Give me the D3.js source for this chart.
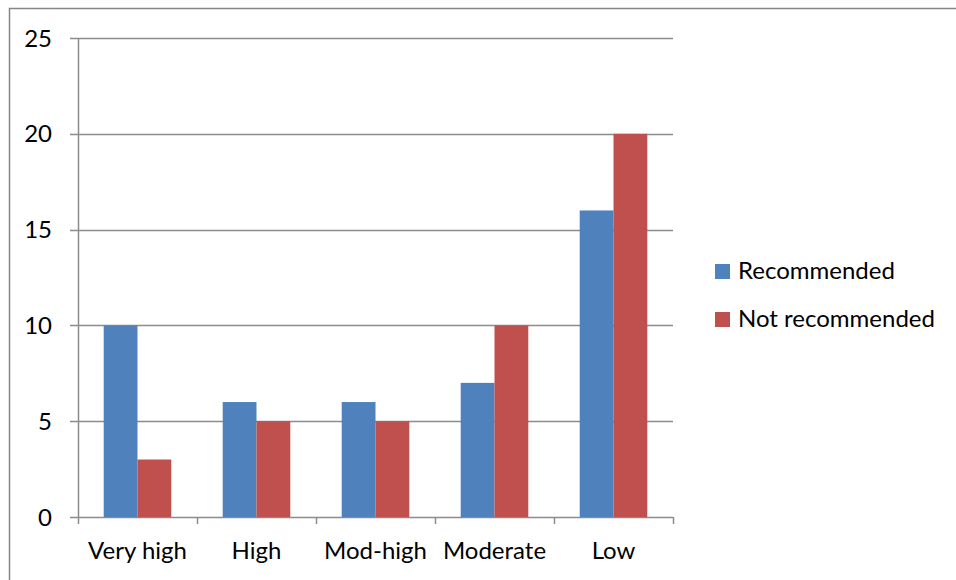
<!DOCTYPE html>
<html>
<head>
<meta charset="utf-8">
<script src="https://cdn.jsdelivr.net/npm/d3@7"></script>
<style>
  body { margin: 0; background: #fff; }
  svg { display: block; }
</style>
</head>
<body>
<div id="chart"></div>
<script>
'use strict';

// chart data
var categories = ['Very high', 'High', 'Mod-high', 'Moderate', 'Low'];
var seriesNames = ['Recommended', 'Not recommended'];
var recommended = [10, 6, 6, 7, 16];
var notRecommended = [3, 5, 5, 10, 20];
var yTicks = [0, 5, 10, 15, 20, 25];

var colors = ['#4F81BD', '#C0504D'];
var font = 'Lato, "Open Sans", sans-serif';
var fontSize = 24;

var width = 956, height = 580;
var margin = {top: 38, right: 283, bottom: 63, left: 78};
var plotW = width - margin.left - margin.right,
    plotH = height - margin.top - margin.bottom;

var svg = d3.select('#chart').append('svg')
    .attr('width', width)
    .attr('height', height);

// outer chart frame (only top and left edges show)
svg.append('path')
    .attr('d', 'M9.5,' + height + 'V8.5H' + width)
    .attr('fill', 'none')
    .attr('stroke', '#868686')
    .attr('stroke-width', 1.5);

var g = svg.append('g')
    .attr('transform', 'translate(' + margin.left + ',' + margin.top + ')');

var x0 = d3.scaleBand().domain(categories).range([0, plotW]);
var gap = x0.bandwidth() * 0.216;
var x1 = d3.scaleBand().domain(seriesNames).range([gap, x0.bandwidth() - gap]);
var y = d3.scaleLinear().domain([0, 25]).range([plotH, 0]);

// gridlines with left tick stubs
g.append('g')
  .selectAll('line')
  .data(yTicks)
  .join('line')
    .attr('x1', -8)
    .attr('x2', plotW)
    .attr('y1', function (d) { return Math.round(y(d)) + 0.5; })
    .attr('y2', function (d) { return Math.round(y(d)) + 0.5; })
    .attr('stroke', '#8c8c8c')
    .attr('stroke-width', 1.5);

// y axis line
g.append('line')
    .attr('x1', 0.5).attr('x2', 0.5)
    .attr('y1', 0).attr('y2', plotH)
    .attr('stroke', '#8c8c8c')
    .attr('stroke-width', 1.5);

// y labels
g.append('g')
  .selectAll('text')
  .data(yTicks)
  .join('text')
    .attr('x', -26)
    .attr('y', function (d) { return y(d); })
    .attr('dy', '0.36em')
    .attr('text-anchor', 'end')
    .attr('font-family', font)
    .attr('font-size', fontSize)
    .attr('fill', '#000')
    .text(function (d) { return d; });

// bars
var rows = categories.map(function (c, i) {
  return {cat: c, values: [recommended[i], notRecommended[i]]};
});

var groups = g.append('g')
  .selectAll('g')
  .data(rows)
  .join('g')
    .attr('transform', function (d) { return 'translate(' + x0(d.cat) + ',0)'; });

groups.selectAll('rect')
  .data(function (d) {
    return d.values.map(function (v, j) { return {name: seriesNames[j], value: v, j: j}; });
  })
  .join('rect')
    .attr('x', function (d) { return x1(d.name); })
    .attr('y', function (d) { return y(d.value); })
    .attr('width', x1.bandwidth())
    .attr('height', function (d) { return plotH - y(d.value); })
    .attr('fill', function (d) { return colors[d.j]; });

// x axis ticks between categories
var xTickPos = categories.map(function (c) { return x0(c); }).concat([plotW]);
g.append('g')
  .selectAll('line')
  .data(xTickPos)
  .join('line')
    .attr('x1', function (d) { return Math.round(d) + 0.5; })
    .attr('x2', function (d) { return Math.round(d) + 0.5; })
    .attr('y1', plotH)
    .attr('y2', plotH + 7)
    .attr('stroke', '#8c8c8c')
    .attr('stroke-width', 1.5);

// x labels
g.append('g')
  .selectAll('text')
  .data(categories)
  .join('text')
    .attr('x', function (d) { return x0(d) + x0.bandwidth() / 2; })
    .attr('y', plotH + 42)
    .attr('text-anchor', 'middle')
    .attr('font-family', font)
    .attr('font-size', fontSize)
    .attr('fill', '#000')
    .text(function (d) { return d; });

// legend
var legend = svg.append('g')
    .attr('transform', 'translate(715,264)');

var items = legend.selectAll('g')
  .data(seriesNames)
  .join('g')
    .attr('transform', function (d, i) { return 'translate(0,' + (i * 48) + ')'; });

items.append('rect')
    .attr('width', 15)
    .attr('height', 15)
    .attr('fill', function (d, i) { return colors[i]; });

items.append('text')
    .attr('x', 23)
    .attr('y', 15)
    .attr('font-family', font)
    .attr('font-size', fontSize)
    .attr('fill', '#000')
    .text(function (d) { return d; });
</script>
</body>
</html>
